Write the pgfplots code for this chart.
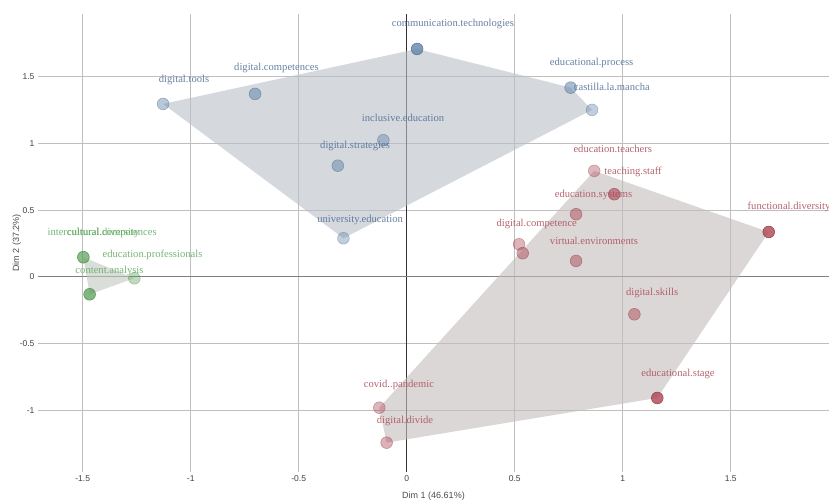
\documentclass[border=0pt]{standalone}
\usepackage{pgfplots}
\pgfplotsset{compat=1.18}
\usepackage{pgfplotstable}
\usepackage{fontspec}
\setmainfont{Liberation Serif}
\setsansfont{Liberation Sans}

\definecolor{bluept}{HTML}{6485AB}
\definecolor{redpt}{HTML}{AC4553}
\definecolor{greenpt}{HTML}{579F57}
\definecolor{bluetxt}{HTML}{4C6B93}
\definecolor{redtxt}{HTML}{A84A57}
\definecolor{greentxt}{HTML}{5FA85F}
\definecolor{bluehull}{HTML}{B9C0C8}
\definecolor{redhull}{HTML}{C5BCBC}
\definecolor{greenhull}{HTML}{C0C8C0}

% points: x y opacity
\pgfplotstableread{
x y a
0.048 1.709 0.80
-1.128 1.297 0.45
-0.702 1.372 0.55
0.759 1.419 0.55
0.858 1.252 0.40
-0.108 1.025 0.45
-0.319 0.834 0.50
-0.293 0.290 0.40
}\bluepts

\pgfplotstableread{
x y a
0.868 0.795 0.38
0.961 0.620 0.60
0.784 0.470 0.48
1.676 0.337 0.80
0.520 0.245 0.40
0.537 0.178 0.48
0.784 0.120 0.48
1.054 -0.280 0.48
1.160 -0.907 0.80
-0.127 -0.980 0.40
-0.093 -1.242 0.42
}\redpts

\pgfplotstableread{
x y a
-1.497 0.148 0.45
-1.497 0.148 0.45
-1.468 -0.130 0.75
-1.261 -0.010 0.38
}\greenpts

% labels
\pgfplotstableread{
x y label
0.214 1.897 communication.technologies
-1.031 1.477 digital.tools
-0.603 1.567 digital.competences
-0.017 1.192 inclusive.education
-0.239 0.982 digital.strategies
-0.216 0.427 university.education
0.856 1.604 educational.process
0.950 1.424 castilla.la.mancha
}\bluelabs

\pgfplotstableread{
x y label
0.954 0.960 education.teachers
1.048 0.787 teaching.staff
0.865 0.615 education.systems
1.770 0.525 functional.diversity
0.602 0.397 digital.competence
0.867 0.270 virtual.environments
1.136 -0.120 digital.skills
1.256 -0.727 educational.stage
-0.036 -0.810 covid..pandemic
-0.008 -1.079 digital.divide
}\redlabs

\pgfplotstableread{
x y label
-1.410 0.330 intercultural.competences
-1.405 0.330 cultural.diversity
-1.177 0.165 education.professionals
-1.376 0.045 content.analysis
}\greenlabs

\pgfplotsset{
  ptstyle/.style={scatter, only marks, mark=*, mark size=5.9pt,
    mark options={line width=0.6pt, draw=#1!80!black, fill=#1},
    visualization depends on={\thisrow{a} \as \alp},
    scatter/@pre marker code/.code={\pgfscope\pgfsetfillopacity{\alp}\pgfsetstrokeopacity{\alp}},
    scatter/@post marker code/.code={\endpgfscope}},
  labstyle/.style={draw=none, mark=none, nodes near coords, point meta=explicit symbolic,
    nodes near coords style={anchor=center, inner sep=0pt, text=#1, text opacity=0.85,
      font=\fontsize{10.6}{12}\selectfont}},
}

\begin{document}
\begin{tikzpicture}
\begin{axis}[
  scale only axis,
  width=791pt, height=458pt,
  xmin=-1.707, xmax=1.955,
  ymin=-1.462, ymax=1.971,
  xtick={-1.5,-1,-0.5,0,0.5,1,1.5},
  ytick={-1,-0.5,0,0.5,1,1.5},
  grid=major,
  grid style={draw=black!25, line width=1pt},
  extra x ticks={0}, extra x tick labels={},
  extra x tick style={grid style={draw=black!80, line width=0.8pt}},
  extra y ticks={0}, extra y tick labels={},
  extra y tick style={grid style={draw=black!50, line width=1.1pt}},
  axis line style={draw=none},
  major tick length=0pt,
  /pgf/number format/assume math mode=true,
  ticklabel style={font=\sffamily\fontsize{8.5}{10}\selectfont, text=black!75},
  xlabel={Dim 1 (46.61\%)},
  ylabel={Dim 2 (37.2\%)},
  label style={font=\sffamily\fontsize{9}{10}\selectfont, text=black!70},
  xlabel style={yshift=-4pt},
  ylabel style={yshift=-8pt},
  clip=false,
]
\addplot[fill=bluehull, fill opacity=0.6, draw=none] coordinates {
  (-1.128,1.297) (0.048,1.709) (0.759,1.419) (0.858,1.252) (-0.293,0.290)} -- cycle;
\addplot[fill=redhull, fill opacity=0.6, draw=none] coordinates {
  (0.868,0.795) (1.676,0.337) (1.160,-0.907) (-0.093,-1.242) (-0.127,-0.980)} -- cycle;
\addplot[fill=greenhull, fill opacity=0.6, draw=none] coordinates {
  (-1.497,0.148) (-1.261,-0.010) (-1.468,-0.130)} -- cycle;

\addplot[ptstyle=bluept] table[x=x, y=y] {\bluepts};
\addplot[ptstyle=redpt] table[x=x, y=y] {\redpts};
\addplot[ptstyle=greenpt] table[x=x, y=y] {\greenpts};

\addplot[labstyle=bluetxt] table[x=x, y=y, meta=label] {\bluelabs};
\addplot[labstyle=redtxt] table[x=x, y=y, meta=label] {\redlabs};
\addplot[labstyle=greentxt] table[x=x, y=y, meta=label] {\greenlabs};
\end{axis}
\pgfresetboundingbox
\path[use as bounding box] (current axis.south west) ++(-38pt,-28pt) rectangle ++(829pt,500pt);
\end{tikzpicture}
\end{document}
